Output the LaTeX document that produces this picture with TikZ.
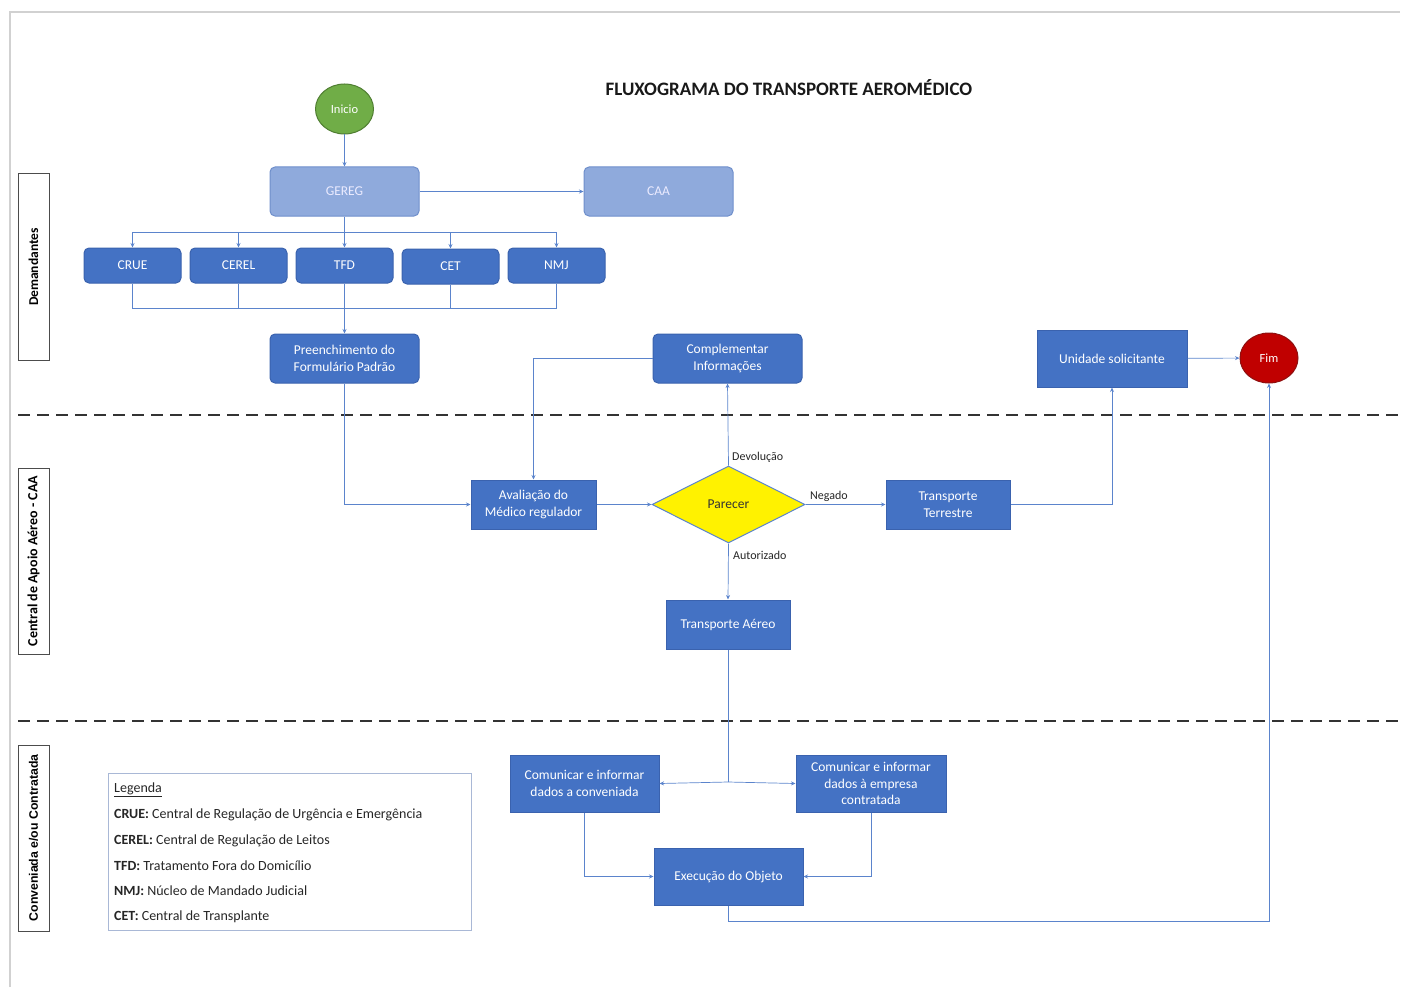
\documentclass[tikz,border=0pt]{standalone}
\usepackage{fontspec}
\setmainfont{Carlito}
\newfontfamily\lanefont{Liberation Sans}
\usetikzlibrary{shapes.geometric,arrows.meta}
\definecolor{bblue}{HTML}{4472C4}
\definecolor{bborder}{HTML}{3A62AE}
\definecolor{lblue}{HTML}{8FAADC}
\definecolor{lborder}{HTML}{6F8FCB}
\definecolor{cline}{HTML}{5B84CC}
\definecolor{igreen}{HTML}{70AD47}
\definecolor{igreenb}{HTML}{507E32}
\definecolor{fred}{HTML}{C00000}
\definecolor{fredb}{HTML}{8E1010}
\definecolor{legb}{HTML}{A9B8D6}
\begin{document}
\begin{tikzpicture}[x=1pt,y=-1pt,
  box/.style={draw=bborder, fill=bblue, text=white, line width=1pt, align=center, inner sep=0pt, font=\fontsize{13.5}{16.5}\selectfont},
  rbox/.style={box, rounded corners=5pt},
  lbox/.style={rbox, draw=lborder, fill=lblue, text=white!92!blue},
  conn/.style={draw=cline, line width=0.7pt, -{Stealth[length=4.5pt,width=4pt]}},
  ln/.style={draw=cline, line width=0.7pt},
  lane/.style={draw=black!70, line width=1pt, fill=white, inner sep=0pt, minimum width=186pt, minimum height=31pt, rotate=90, font=\bfseries\fontsize{14}{16}\selectfont},
  lbl/.style={font=\fontsize{12}{14}\selectfont, text=black!85, inner sep=0pt},
  legt/.style={font=\fontsize{14}{16}\selectfont, text=black!85, anchor=west, inner sep=0pt},
  sep/.style={draw=black!80, line width=2.3pt, dash pattern=on 12pt off 7pt},
  term/.style={ellipse, minimum width=58pt, minimum height=50pt, inner sep=0pt, line width=1pt, text=white, font=\fontsize{12.5}{14}\selectfont}
]
\useasboundingbox (0,0) rectangle (1404,987);
% page border
\draw[black!18, line width=1.2pt] (10,987) -- (10,12) -- (1400,12);

% title
\node[font=\bfseries\fontsize{19}{22}\selectfont, text=black!90] (title) at (789,88) {FLUXOGRAMA DO TRANSPORTE AEROMÉDICO};

% lane labels
\node[lane, font=\bfseries\fontsize{13.5}{16}\selectfont] (lane1) at (33.5,267) {Demandantes};
\node[lane] (lane2) at (33.5,561) {Central de Apoio Aéreo - CAA};
\node[lane, font=\lanefont\bfseries\fontsize{12.3}{14}\selectfont] (lane3) at (33.5,838) {Conveniada e/ou Contratada};

% separators
\draw[sep] (18,415) -- (1400,415);
\draw[sep] (18,721) -- (1400,721);

% nodes
\node[term, draw=igreenb, fill=igreen] (inicio) at (344.5,109) {Inicio};
\node[lbox, minimum width=149pt, minimum height=49pt] (gereg) at (344.5,191.5) {GEREG};
\node[lbox, minimum width=149pt, minimum height=49pt] (caa) at (658.5,191.5) {CAA};

\node[rbox, minimum width=97pt, minimum height=35pt] (crue) at (132.5,265.5) {CRUE};
\node[rbox, minimum width=97pt, minimum height=35pt] (cerel) at (238.5,265.5) {CEREL};
\node[rbox, minimum width=97pt, minimum height=35pt] (tfd) at (344.5,265.5) {TFD};
\node[rbox, minimum width=97pt, minimum height=35pt] (cet) at (450.5,266.5) {CET};
\node[rbox, minimum width=97pt, minimum height=35pt] (nmj) at (556.5,265.5) {NMJ};

\node[rbox, minimum width=149pt, minimum height=49pt] (pre) at (344.5,358.5) {Preenchimento do\\Formulário Padrão};
\node[rbox, minimum width=149pt, minimum height=49pt] (comp) at (727.5,358.5) {Complementar\\Informações};
\node[box, minimum width=150pt, minimum height=57pt] (unid) at (1112,358.5) {Unidade solicitante};
\node[term, draw=fredb, fill=fred] (fim) at (1269,358) {Fim};

\node[box, minimum width=125pt, minimum height=49pt] (aval) at (533.5,504.5) {Avaliação do\\Médico regulador};
\node[diamond, draw=cline, fill=yellow, line width=1pt, minimum width=153pt, minimum height=77pt, inner sep=0pt, aspect=2, font=\fontsize{13.5}{16}\selectfont, text=black!80] (par) at (728.5,504.5) {Parecer};
\node[box, minimum width=124pt, minimum height=49pt] (terr) at (948,504.5) {Transporte\\Terrestre};
\node[box, minimum width=124pt, minimum height=49pt] (aereo) at (728,624.5) {Transporte Aéreo};

\node[box, minimum width=149pt, minimum height=57pt] (conv) at (584.5,783.5) {Comunicar e informar\\dados a conveniada};
\node[box, minimum width=150pt, minimum height=57pt] (contr) at (871,783.5) {Comunicar e informar\\dados à empresa\\contratada};
\node[box, minimum width=149pt, minimum height=57pt] (exec) at (728.5,876.5) {Execução do Objeto};

% legend
\node[draw=legb, line width=1pt, minimum width=363pt, minimum height=157pt, inner sep=0pt] (leg) at (289.5,851.5) {};
\node[legt] (lg0) at (114,790) {\underline{Legenda}};
\node[legt] (lg1) at (114,815) {\textbf{CRUE:} Central de Regulação de Urgência e Emergência};
\node[legt] (lg2) at (114,841) {\textbf{CEREL:} Central de Regulação de Leitos};
\node[legt] (lg3) at (114,866) {\textbf{TFD:} Tratamento Fora do Domicílio};
\node[legt] (lg4) at (114,891) {\textbf{NMJ:} Núcleo de Mandado Judicial};
\node[legt] (lg5) at (114,917) {\textbf{CET:} Central de Transplante};

% connectors
\draw[conn] (inicio) -- (gereg);
\draw[conn] (gereg) -- (caa);
\coordinate (b1) at (344.5,232);
\draw[ln] (gereg.south) -- (b1);
\draw[conn] (b1) -| (crue.north);
\draw[conn] (b1) -| (cerel.north);
\draw[conn] (b1) -- (tfd.north);
\draw[conn] (b1) -| (cet.north);
\draw[conn] (b1) -| (nmj.north);
\coordinate (b2) at (344.5,308);
\draw[ln] (crue.south) |- (b2);
\draw[ln] (cerel.south) |- (b2);
\draw[ln] (cet.south) |- (b2);
\draw[ln] (nmj.south) |- (b2);
\draw[conn] (tfd.south) -- (pre.north);

\draw[conn] (pre.south) |- (aval.west);
\draw[conn] (aval) -- (par);
\draw[conn] (par.east) -- (terr.west);
\draw[conn] (par.north) -- (comp.south);
\draw[conn] (comp.west) -| (aval.north);
\draw[conn] (par.south) -- (aereo.north);
\draw[conn] (terr.east) -| (unid.south);
\draw[conn] (unid) -- (fim);

\node[lbl, anchor=west] (tneg) at (810,496) {Negado};
\node[lbl, anchor=west] (tdev) at (732,457) {Devolução};
\node[lbl, anchor=west] (taut) at (733,555) {Autorizado};

\coordinate (b3) at (728,782);
\draw[ln] (aereo.south) -- (b3);
\draw[conn] (b3) -- (conv.east);
\draw[conn] (b3) -- (contr.west);
\draw[conn] (conv.south) |- (exec.west);
\draw[conn] (contr.south) |- (exec.east);
\coordinate (b4) at (1269,921);
\draw[conn] (exec.south) |- (b4) -- (fim.south);
\end{tikzpicture}
\end{document}
